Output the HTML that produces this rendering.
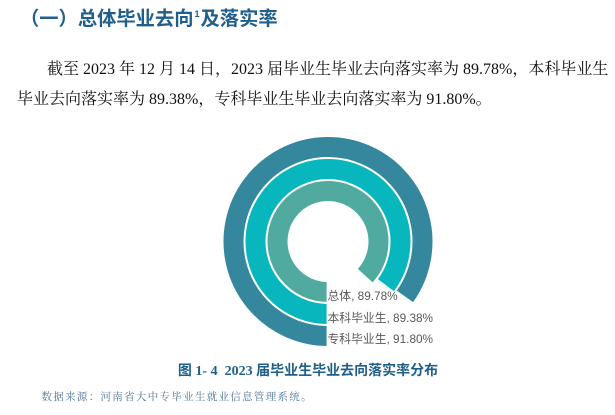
<!DOCTYPE html>
<html>
<head>
<meta charset="utf-8">
<style>
  html, body { margin:0; padding:0; background:#fff; }
  body { width:615px; height:415px; position:relative; overflow:hidden; }
  .t { position:absolute; white-space:nowrap; }
  .title { left:20px; top:8px; line-height:24px; font-size:19.3px; font-weight:700; color:#1e5f8c;
           font-family:"Liberation Sans","Noto Sans CJK SC",sans-serif; }
  .title sup { font-size:9px; vertical-align:top; position:relative; top:-1px; display:inline-block; width:7px; text-align:left; padding-left:1px; box-sizing:border-box; line-height:14px; }
  .body { font-size:16px; line-height:20px; color:#111;
          font-family:"Liberation Serif","Noto Serif CJK SC",serif; }
  .lbl { font-size:11.8px; line-height:14px; color:#595959;
         font-family:"Liberation Sans","Noto Sans CJK SC",sans-serif; left:327.5px; }
  .cap { left:0; width:616px; text-align:center; top:361.7px; line-height:20px; font-size:14px; font-weight:700; color:#1f5f8a;
         font-family:"Liberation Serif","Noto Sans CJK SC",serif; }
  .src { left:41.5px; top:390.5px; line-height:14px; font-size:10.5px; letter-spacing:1.3px; color:#4f7396;
         font-family:"Liberation Serif","Noto Serif CJK SC",serif; }
</style>
</head>
<body>
<div class="t title">（一）总体毕业去向<sup>1</sup>及落实率</div>

<div class="t body" style="left:47px; top:59.5px;">截至 2023 年 12 月 14 日，2023 届毕业生毕业去向落实率为 89.78%，本科毕业生</div>
<div class="t body" style="left:17px; top:90px;">毕业去向落实率为 89.38%，专科毕业生毕业去向落实率为 91.80%。</div>

<svg width="615" height="415" style="position:absolute;left:0;top:0;" xmlns="http://www.w3.org/2000/svg">
  <path d="M 328 336 A 94.5 94.5 0 1 1 404.93 296.38" fill="none" stroke="#34879d" stroke-width="20"/>
  <path d="M 328 314 A 72.5 72.5 0 1 1 385.90 285.13" fill="none" stroke="#08b7be" stroke-width="20"/>
  <path d="M 328 292 A 50.5 50.5 0 1 1 365.23 275.62" fill="none" stroke="#50aaa0" stroke-width="20"/>
  <rect x="326.6" y="280" width="20" height="70" fill="#fff"/>
</svg>

<div class="t lbl" style="top:288.7px;">总体, 89.78%</div>
<div class="t lbl" style="top:310.5px;">本科毕业生, 89.38%</div>
<div class="t lbl" style="top:331.5px;">专科毕业生, 91.80%</div>

<div class="t cap">图 1- 4&nbsp;&nbsp;2023 届毕业生毕业去向落实率分布</div>
<div class="t src">数据来源：河南省大中专毕业生就业信息管理系统。</div>
</body>
</html>
